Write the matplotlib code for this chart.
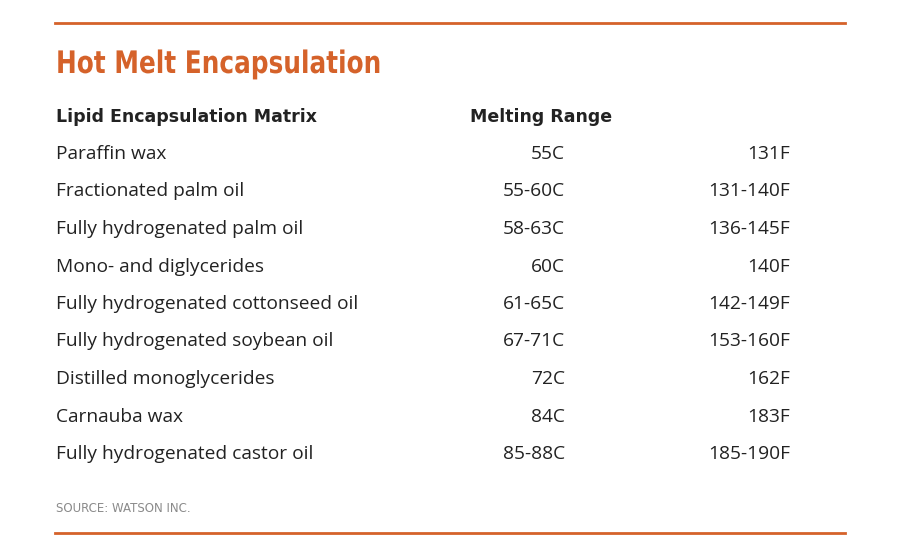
import matplotlib
matplotlib.use("Agg")
import matplotlib.pyplot as plt
from matplotlib.lines import Line2D
from matplotlib.textpath import TextPath
from matplotlib.patches import PathPatch
from matplotlib.font_manager import FontProperties
from matplotlib.transforms import Affine2D

title = "Hot Melt Encapsulation"
headers = ["Lipid Encapsulation Matrix", "Melting Range"]
matrices = ["Paraffin wax", "Fractionated palm oil", "Fully hydrogenated palm oil",
            "Mono- and diglycerides", "Fully hydrogenated cottonseed oil",
            "Fully hydrogenated soybean oil", "Distilled monoglycerides",
            "Carnauba wax", "Fully hydrogenated castor oil"]
celsius = ["55C", "55-60C", "58-63C", "60C", "61-65C", "67-71C", "72C", "84C", "85-88C"]
fahrenheit = ["131F", "131-140F", "136-145F", "140F", "142-149F", "153-160F",
              "162F", "183F", "185-190F"]
source = "SOURCE: WATSON INC."

W, H = 900, 550
orange = "#D5622A"
dark = "#222222"
fig = plt.figure(figsize=(9, 5.5), dpi=100)
fig.patch.set_facecolor("white")

def X(px): return px / W
def Y(py): return 1 - py / H

for yy in (23, 533):
    fig.add_artist(Line2D([X(55), X(845)], [Y(yy), Y(yy)], color=orange, lw=2))

# condensed title drawn as a horizontally scaled text path (pixel coordinates)
ax = fig.add_axes([0, 0, 1, 1])
ax.set_xlim(0, W); ax.set_ylim(H, 0); ax.axis("off")
tp = TextPath((0, 0), title, size=31, prop=FontProperties(family="DejaVu Sans", weight="bold"))
tr = Affine2D().scale(0.80, -1.0).translate(56, 73)
ax.add_patch(PathPatch(tr.transform_path(tp), color=orange, lw=0))

fig.text(X(56), Y(117), headers[0], color=dark, fontsize=12.5, fontweight="bold",
         va="center", ha="left")
fig.text(X(470), Y(117), headers[1], color=dark, fontsize=12.5, fontweight="bold",
         va="center", ha="left")

for i, (m, c, f) in enumerate(zip(matrices, celsius, fahrenheit)):
    y = Y(154 + i * 37.5)
    fig.text(X(56), y, m, color=dark, fontsize=13.8, family="Open Sans", va="center", ha="left")
    fig.text(X(565), y, c, color=dark, fontsize=13.8, family="Open Sans", va="center", ha="right")
    fig.text(X(790), y, f, color=dark, fontsize=13.8, family="Open Sans", va="center", ha="right")

fig.text(X(56), Y(508), source, color="#8a8a8a", fontsize=8.5, va="center", ha="left")

fig.savefig("out.png", dpi=100, facecolor="white")
